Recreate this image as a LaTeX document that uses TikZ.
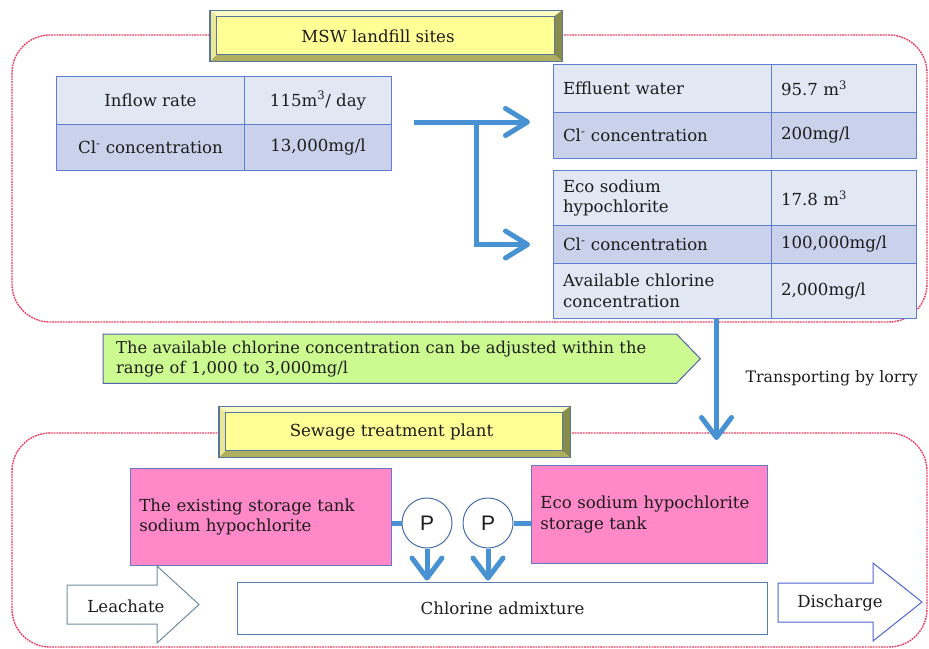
\documentclass[tikz,border=0pt]{standalone}
\usepackage{fontspec}
\setmainfont{DejaVu Serif}
\newfontfamily\pumpfont{Liberation Sans}
\usetikzlibrary{arrows.meta,backgrounds}

\definecolor{ink}{RGB}{28,28,28}
\definecolor{zonered}{RGB}{238,60,95}
\definecolor{gridblue}{RGB}{95,125,210}
\definecolor{rowlight}{RGB}{226,231,244}
\definecolor{rowdark}{RGB}{201,209,235}
\definecolor{flowblue}{RGB}{72,146,212}
\definecolor{titleface}{RGB}{255,255,150}
\definecolor{bevtop}{RGB}{250,250,195}
\definecolor{bevleft}{RGB}{232,232,150}
\definecolor{bevright}{RGB}{135,140,75}
\definecolor{bevbottom}{RGB}{175,175,95}
\definecolor{titleedge}{RGB}{88,118,160}
\definecolor{tankpink}{RGB}{255,136,200}
\definecolor{tankedge}{RGB}{100,120,195}
\definecolor{notegreen}{RGB}{204,250,145}
\definecolor{noteedge}{RGB}{80,100,170}
\definecolor{mixedge}{RGB}{85,125,175}
\definecolor{leachedge}{RGB}{110,140,160}
\definecolor{dischedge}{RGB}{80,100,210}
\definecolor{pumpedge}{RGB}{70,110,170}

\newcommand\bodysize{\fontsize{16.6}{20.5}\selectfont}

% raised bevel around a title node
\newcommand\bevelframe[1]{%
  \fill[bevtop] (#1.north west) -- (#1.north east) -- ([shift={(-7,6)}]#1.north east) -- ([shift={(7,6)}]#1.north west) -- cycle;
  \fill[bevleft] (#1.north west) -- ([shift={(7,6)}]#1.north west) -- ([shift={(7,-7)}]#1.south west) -- (#1.south west) -- cycle;
  \fill[bevright] (#1.north east) -- ([shift={(-8,6)}]#1.north east) -- ([shift={(-8,-7)}]#1.south east) -- (#1.south east) -- cycle;
  \fill[bevbottom] (#1.south west) -- ([shift={(7,-7)}]#1.south west) -- ([shift={(-8,-7)}]#1.south east) -- (#1.south east) -- cycle;
  \draw[titleedge, line width=0.8pt] ([shift={(7,6)}]#1.north west) rectangle ([shift={(-8,-7)}]#1.south east);
  \draw[titleedge, line width=1.4pt] (#1.north west) rectangle (#1.south east);
}

\begin{document}
\begin{tikzpicture}[x=1pt,y=-1pt,
  every node/.style={text=ink, font=\bodysize},
  zone/.style={draw=zonered, line width=1.4pt, dash pattern=on 1.8pt off 0.9pt, rounded corners=38pt},
  titlebox/.style={fill=titleface, minimum width=#1, minimum height=51pt, inner sep=0pt},
  cell/.style n args={3}{draw=gridblue, line width=1pt, anchor=north west, inner sep=0pt,
    minimum width=#1, minimum height=#2, fill=#3},
  colA/.style={text width=198pt, inner xsep=10pt, align=left},
  colB/.style={text width=125pt, inner xsep=10pt, align=left},
  flow/.style={draw=flowblue, line width=5pt,
    -{Straight Barb[length=22pt, width=27pt, line cap=round, line join=round]}},
  flowdown/.style={draw=flowblue, line width=5pt,
    -{Straight Barb[length=20pt, width=30pt, line cap=round, line join=round]}},
  pipe/.style={draw=flowblue, line width=5pt},
  tank/.style={draw=tankedge, line width=0.8pt, fill=tankpink, anchor=north west,
    inner xsep=9pt, inner ysep=0pt, align=left},
  pump/.style={circle, draw=pumpedge, line width=1pt, fill=white, minimum size=50pt,
    inner sep=0pt, font=\pumpfont\fontsize{21}{21}\selectfont},
  block/.style={fill=white, line width=1pt, line join=miter}
]
\begin{scope}[on background layer]
  \fill[white] (0,0) rectangle (929,648);
\end{scope}
\useasboundingbox (0,0) rectangle (929,648);

% site zones
\draw[zone] (12,35) rectangle (927,322);
\draw[zone] (12,433) rectangle (927,647);

% zone titles
\node[titlebox=352] (msw) at (386,36) {};
\bevelframe{msw}
\node (mswtext) at ([xshift=-8pt]msw.center) {MSW landfill sites};

\node[titlebox=351] (stp) at (394.5,432) {};
\bevelframe{stp}
\node (stptext) at ([xshift=-3pt]stp.center) {Sewage treatment plant};

% inflow table
\node[cell={188}{48}{rowlight}] (tl11) at (56,76) {Inflow rate};
\node[cell={147}{48}{rowlight}] (tl12) at (244,76) {115m\textsuperscript{3}/ day};
\node[cell={188}{46}{rowdark}] (tl21) at (56,124) {Cl\textsuperscript{-} concentration};
\node[cell={147}{46}{rowdark}] (tl22) at (244,124) {13,000mg/l};

% effluent table
\node[cell={218}{47.5}{rowlight}, colA] (ta11) at (552.5,64) {Effluent water};
\node[cell={145}{47.5}{rowlight}, colB] (ta12) at (770.5,64) {95.7 m\textsuperscript{3}};
\node[cell={218}{46.5}{rowdark}, colA] (ta21) at (552.5,111.5) {Cl\textsuperscript{-} concentration};
\node[cell={145}{46.5}{rowdark}, colB] (ta22) at (770.5,111.5) {200mg/l};

% hypochlorite table
\node[cell={218}{55}{rowlight}, colA] (tb11) at (552.5,170) {Eco sodium\\hypochlorite};
\node[cell={145}{55}{rowlight}, colB] (tb12) at (770.5,170) {17.8 m\textsuperscript{3}};
\node[cell={218}{38}{rowdark}, colA] (tb21) at (552.5,225) {Cl\textsuperscript{-} concentration};
\node[cell={145}{38}{rowdark}, colB] (tb22) at (770.5,225) {100,000mg/l};
\node[cell={218}{55}{rowlight}, colA] (tb31) at (552.5,263) {Available chlorine\\concentration};
\node[cell={145}{55}{rowlight}, colB] (tb32) at (770.5,263) {2,000mg/l};

% split of the leachate stream
\coordinate (feed) at ([shift={(22,-3)}]tl12.south east);
\coordinate (fork) at ([xshift=62pt]feed);
\draw[flow, shorten >=22.5pt] (feed) -- (feed -| ta21.west);
\draw[flow, shorten >=22.5pt, line join=miter] (fork) |- (tb21.west);

% note on adjustable concentration
\node[anchor=north west, text width=547pt, inner xsep=13pt, inner ysep=0pt,
      minimum height=49pt, align=left, font=\fontsize{16.3}{20}\selectfont] (note) at (103,334)
  {The available chlorine concentration can be adjusted within the\\range of 1,000 to 3,000mg/l};
\begin{scope}[on background layer]
  \draw[fill=notegreen, draw=noteedge, line width=1pt]
    (note.north west) -- (note.north east) -- ([xshift=24pt]note.east) -- (note.south east) -- (note.south west) -- cycle;
\end{scope}

% transport to the plant
\draw[flowdown, shorten >=0pt] ([xshift=-55pt]tb31.south east) -- ++(0,121);
\node[anchor=west, font=\fontsize{15.8}{20}\selectfont] (lorry) at (742,378) {Transporting by lorry};

% storage tanks and pumps
\node[tank, minimum width=261pt, minimum height=97pt, text width=243pt] (tankL) at (130,468)
  {The existing storage tank\\sodium hypochlorite};
\node[tank, minimum width=236pt, minimum height=98pt, text width=218pt] (tankR) at (531,465)
  {Eco sodium hypochlorite\\storage tank};
\node[pump] (p1) at (427,523) {P};
\node[pump] (p2) at (488,523) {P};
\draw[pipe] (p1.west -| tankL.east) -- (p1.west);
\draw[pipe] (p2.east) -- (p2.east -| tankR.west);

% mixing line
\node[draw=mixedge, line width=1pt, fill=white, anchor=north west, minimum width=530pt,
      minimum height=52pt, inner sep=0pt] (mix) at (237,582) {Chlorine admixture};
\draw[flowdown, shorten >=1.5pt] (p1.south) -- (p1.south |- mix.north);
\draw[flowdown, shorten >=1.5pt] (p2.south) -- (p2.south |- mix.north);

% inlet and outlet
\draw[block, draw=leachedge] (67,585) -- (157,585) -- (157,566) -- (199,604.5) -- (157,643) -- (157,624) -- (67,624) -- cycle;
\node (leach) at (126,606) {Leachate};
\draw[block, draw=dischedge] (778,583) -- (873,583) -- (873,563) -- (922,602) -- (873,641) -- (873,622) -- (778,622) -- cycle;
\node (disch) at (840,603) {Discharge};
\end{tikzpicture}
\end{document}
